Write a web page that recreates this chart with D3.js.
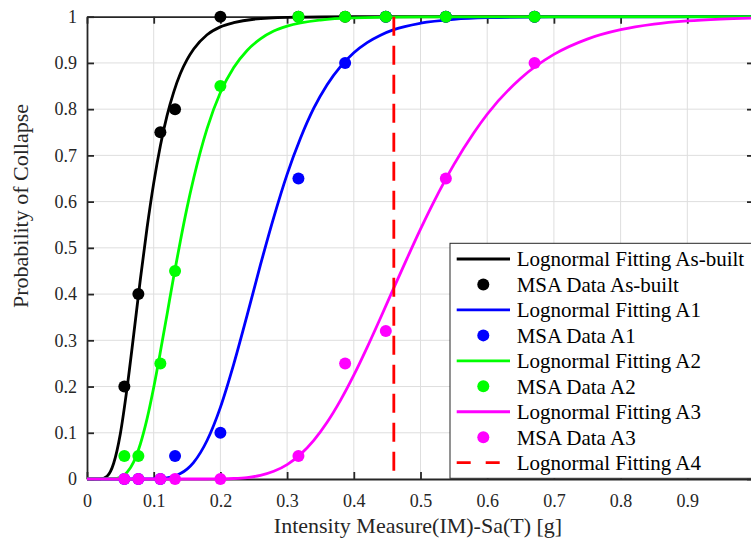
<!DOCTYPE html>
<html>
<head>
<meta charset="utf-8">
<script src="https://cdn.jsdelivr.net/npm/d3@7"></script>
<style>
  html, body { margin: 0; padding: 0; background: #fff; }
  svg { display: block; font-family: "Liberation Serif", "Times New Roman", serif; }
</style>
</head>
<body>
<svg id="chart" width="751" height="538"></svg>
<script>
// MSA data points (IM in g, probability of collapse)
const msaIM = [0.056, 0.077, 0.11, 0.132, 0.2, 0.317, 0.387, 0.448, 0.538, 0.671];
const msaAsBuilt = [0.2, 0.4, 0.75, 0.8, 1, 1, 1, 1, 1, 1];
const msaA1 = [0, 0, 0, 0.05, 0.1, 0.65, 0.9, 1, 1, 1];
const msaA2 = [0.05, 0.05, 0.25, 0.45, 0.85, 1, 1, 1, 1, 1];
const msaA3 = [0, 0, 0, 0, 0, 0.05, 0.25, 0.32, 0.65, 0.9];

// fitted curves
const fitAsBuiltX = [0, 0.02, 0.03, 0.04, 0.05, 0.06, 0.07, 0.08, 0.09, 0.10, 0.11, 0.12, 0.13, 0.14, 0.15, 0.16, 0.18, 0.20, 0.22, 0.25, 0.30, 0.40, 1.0];
const fitAsBuiltY = [0, 0.0003, 0.006, 0.034, 0.098, 0.196, 0.312, 0.432, 0.543, 0.640, 0.721, 0.786, 0.837, 0.877, 0.907, 0.930, 0.961, 0.978, 0.987, 0.9945, 0.9985, 0.9999, 1];

const fitA1X = [0, 0.10, 0.12, 0.13, 0.14, 0.15, 0.16, 0.18, 0.20, 0.22, 0.24, 0.26, 0.28, 0.30, 0.32, 0.34, 0.36, 0.38, 0.40, 0.42, 0.44, 0.46, 0.50, 0.55, 0.60, 0.70, 1.0];
const fitA1Y = [0, 0.0003, 0.0025, 0.0058, 0.0118, 0.0215, 0.0362, 0.0833, 0.155, 0.2485, 0.354, 0.463, 0.566, 0.659, 0.737, 0.802, 0.853, 0.892, 0.922, 0.944, 0.960, 0.972, 0.986, 0.9944, 0.9978, 0.9996, 1];

const fitA2X = [0, 0.04, 0.05, 0.06, 0.07, 0.08, 0.09, 0.10, 0.11, 0.12, 0.13, 0.14, 0.15, 0.16, 0.18, 0.20, 0.22, 0.24, 0.26, 0.28, 0.30, 0.35, 0.40, 0.50, 1.0];
const fitA2Y = [0, 0.0006, 0.0038, 0.0142, 0.037, 0.0757, 0.130, 0.198, 0.275, 0.356, 0.438, 0.515, 0.587, 0.651, 0.758, 0.836, 0.890, 0.927, 0.952, 0.969, 0.9795, 0.9928, 0.9974, 0.9996, 1];

const fitA3X = [0, 0.18, 0.20, 0.22, 0.24, 0.26, 0.28, 0.30, 0.32, 0.34, 0.36, 0.38, 0.40, 0.42, 0.44, 0.46, 0.48, 0.50, 0.52, 0.55, 0.58, 0.60, 0.65, 0.70, 0.75, 0.80, 0.85, 0.90, 0.95, 1.0];
const fitA3Y = [0, 0.00005, 0.0003, 0.0011, 0.0032, 0.0079, 0.0166, 0.0312, 0.0532, 0.0835, 0.1226, 0.170, 0.2245, 0.2847, 0.3483, 0.4133, 0.4777, 0.5404, 0.5995, 0.680, 0.749, 0.789, 0.8665, 0.9185, 0.9516, 0.9719, 0.9839, 0.9909, 0.9949, 0.9972];

// A4 fit shown as a vertical dashed line
const fitA4IM = 0.46;

const tickVals = [0, 0.1, 0.2, 0.3, 0.4, 0.5, 0.6, 0.7, 0.8, 0.9, 1];

const axisColor = "#262626";

const svg = d3.select("#chart");

let x = d3.scaleLinear().domain([0, 1]).range([87, 754]);
let y = d3.scaleLinear().domain([0, 1]).range([479, 16.7]);

const fmt = d => (d === 0 || d === 1) ? String(d) : d3.format(".1f")(d);

// grid
let grid = svg.append("g").attr("stroke", "#dedede").attr("stroke-width", 1);
grid.selectAll(".gx").data(tickVals.slice(1, -1)).enter().append("line")
  .attr("x1", d => x(d)).attr("x2", d => x(d))
  .attr("y1", y(0)).attr("y2", y(1));
grid.selectAll(".gy").data(tickVals.slice(1, -1)).enter().append("line")
  .attr("y1", d => y(d)).attr("y2", d => y(d))
  .attr("x1", x(0)).attr("x2", x(1));

// axes
const styleAxis = g => {
  g.select(".domain").attr("stroke", axisColor).attr("stroke-width", 1.8);
  g.selectAll(".tick line").attr("stroke", axisColor).attr("stroke-width", 1.8);
  g.selectAll(".tick text").attr("fill", axisColor).attr("font-size", 18)
    .attr("font-family", "Liberation Serif, Times New Roman, serif");
};

svg.append("g").attr("transform", `translate(0,${y(0)})`)
  .call(d3.axisBottom(x).tickValues(tickVals).tickFormat(fmt).tickSize(-7).tickSizeOuter(0).tickPadding(15))
  .call(styleAxis);
svg.append("g").attr("transform", `translate(${x(0)},0)`)
  .call(d3.axisLeft(y).tickValues(tickVals).tickFormat(fmt).tickSize(-7).tickSizeOuter(0).tickPadding(10))
  .call(styleAxis);
svg.append("g").attr("transform", `translate(0,${y(1)})`)
  .call(d3.axisTop(x).tickValues(tickVals).tickFormat("").tickSize(-7).tickSizeOuter(0))
  .call(styleAxis);
svg.append("g").attr("transform", `translate(${x(1)},0)`)
  .call(d3.axisRight(y).tickValues(tickVals).tickFormat("").tickSize(-7).tickSizeOuter(0))
  .call(styleAxis);

// axis labels
svg.append("text")
  .attr("x", 418).attr("y", 533)
  .attr("text-anchor", "middle").attr("font-size", 22).attr("fill", axisColor)
  .text("Intensity Measure(IM)-Sa(T) [g]");
svg.append("text")
  .attr("transform", "translate(28,206) rotate(-90)")
  .attr("text-anchor", "middle").attr("font-size", 22).attr("fill", axisColor)
  .text("Probability of Collapse");

// series
let series = [
  { fx: fitAsBuiltX, fy: fitAsBuiltY, py: msaAsBuilt, color: "#000000", name: "As-built" },
  { fx: fitA1X, fy: fitA1Y, py: msaA1, color: "#0000ff", name: "A1" },
  { fx: fitA2X, fy: fitA2Y, py: msaA2, color: "#00ff00", name: "A2" },
  { fx: fitA3X, fy: fitA3Y, py: msaA3, color: "#ff00ff", name: "A3" }
];

let line = d3.line()
  .x(d => x(d[0]))
  .y(d => y(d[1]))
  .curve(d3.curveMonotoneX);

series.forEach(s => {
  svg.append("path")
    .datum(s.fx.map((v, i) => [v, s.fy[i]]))
    .attr("fill", "none")
    .attr("stroke", s.color)
    .attr("stroke-width", 2.8)
    .attr("d", line);

  svg.append("g").selectAll("circle")
    .data(msaIM.map((v, i) => [v, s.py[i]]))
    .enter().append("circle")
    .attr("cx", d => x(d[0]))
    .attr("cy", d => y(d[1]))
    .attr("r", 6)
    .attr("fill", s.color);
});

svg.append("line")
  .attr("x1", x(fitA4IM)).attr("x2", x(fitA4IM))
  .attr("y1", y(1)).attr("y2", y(0))
  .attr("stroke", "#ff0000")
  .attr("stroke-width", 2.8)
  .attr("stroke-dasharray", "19,10");

// legend
let legendItems = [];
series.forEach(s => {
  legendItems.push({ type: "line", color: s.color, label: "Lognormal Fitting " + s.name });
  legendItems.push({ type: "dot", color: s.color, label: "MSA Data " + s.name });
});
legendItems.push({ type: "dash", color: "#ff0000", label: "Lognormal Fitting A4" });

let legend = svg.append("g");
legend.append("rect")
  .attr("x", 450).attr("y", 243.3)
  .attr("width", 330).attr("height", 235)
  .attr("fill", "#fff")
  .attr("stroke", axisColor).attr("stroke-width", 1);

let rows = legend.selectAll("g.row").data(legendItems).enter().append("g")
  .attr("transform", (d, i) => `translate(0,${259 + i * 25.46})`);

rows.filter(d => d.type !== "dot").append("line")
  .attr("x1", 456.7).attr("x2", 510)
  .attr("stroke", d => d.color)
  .attr("stroke-width", 2.8)
  .attr("stroke-dasharray", d => d.type === "dash" ? "14,15" : null);

rows.filter(d => d.type === "dot").append("circle")
  .attr("cx", 483.3).attr("r", 6)
  .attr("fill", d => d.color);

rows.append("text")
  .attr("x", 516.7).attr("dy", "0.35em")
  .attr("font-size", 21).attr("fill", "#000")
  .text(d => d.label);
</script>
</body>
</html>
